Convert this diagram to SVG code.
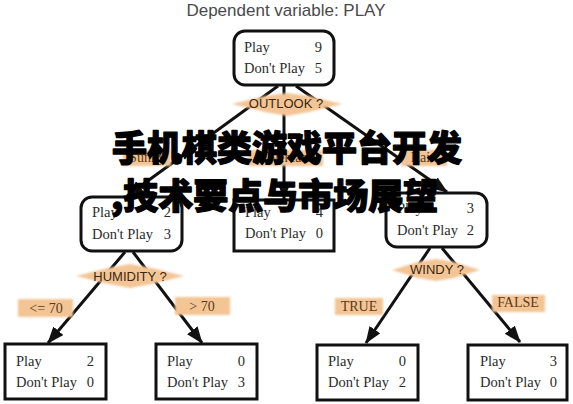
<svg xmlns="http://www.w3.org/2000/svg" width="573" height="404" viewBox="0 0 573 404">
<style>
.bg{fill:#ffffff}
.title{font-family:"Liberation Sans","Open Sans",sans-serif;font-size:17px;fill:#4a4a4a}
.box{fill:#ffffff;stroke:#111;stroke-width:3}
.t{font-family:"Liberation Serif","DejaVu Serif",serif;font-size:14.5px;fill:#2b2b2b}
.n{font-family:"Liberation Serif","DejaVu Serif",serif;font-size:14.5px;fill:#2b2b2b;text-anchor:end}
.arr{stroke:#111;stroke-width:3;fill:none;marker-end:url(#ah)}
.peach{fill:#f3c594;filter:url(#soft)}
.q{font-family:"Liberation Sans","Open Sans",sans-serif;font-size:13px;fill:#3b2712;text-anchor:middle}
.lbl{font-family:"Liberation Serif","DejaVu Serif",serif;font-size:14px;fill:#5a3a1c;text-anchor:middle}
.cjk{font-family:"Noto Sans CJK SC","Noto Sans CJK JP",sans-serif;font-size:35px;font-weight:900;fill:#000;stroke:#000;stroke-width:1.3;stroke-linejoin:round}
</style>
<defs>
<filter id="soft" x="-20%" y="-40%" width="140%" height="180%"><feGaussianBlur stdDeviation="1.3"/></filter>
<marker id="ah" markerUnits="userSpaceOnUse" markerWidth="18" markerHeight="14" refX="16" refY="6.5" orient="auto"><path d="M0,0 L17,6.5 L0,13 z" fill="#111"/></marker>
</defs>
<rect class="bg" x="0" y="0" width="573" height="404"/>
<text class="title" x="286" y="16" text-anchor="middle">Dependent variable: PLAY</text>

<g id="connectors">
<line class="arr" x1="278" y1="86" x2="127" y2="196"/>
<line class="arr" x1="284" y1="86" x2="284" y2="199"/>
<line class="arr" x1="296" y1="86" x2="447" y2="192"/>
<line class="arr" x1="125" y1="252" x2="48" y2="343"/>
<line class="arr" x1="133" y1="252" x2="202" y2="343"/>
<line class="arr" x1="430" y1="248" x2="366" y2="343"/>
<line class="arr" x1="442" y1="248" x2="520" y2="342"/>
</g>

<g id="q-outlook">
<polygon class="peach" points="232,104 265,96 287,93 309,96 342,104 309,112 287,116 265,112"/>
<text class="q" x="286" y="108">OUTLOOK ?</text>
</g>
<g id="q-humidity">
<polygon class="peach" points="76,276 108,268 130,264 152,268 184,276 152,284 130,288 108,284"/>
<text class="q" x="130" y="281">HUMIDITY ?</text>
</g>
<g id="q-windy">
<polygon class="peach" points="392,270 418,262 436,259 454,262 480,270 454,278 436,281 418,278"/>
<text class="q" x="437" y="274">WINDY ?</text>
</g>

<g id="lbl-sunny"><rect class="peach" x="123" y="150" width="48" height="16"/><text class="lbl" x="147" y="162">Sunny</text></g>
<g id="lbl-overcast"><rect class="peach" x="249" y="150" width="74" height="16"/><text class="lbl" x="286" y="162">Overcast</text></g>
<g id="lbl-rain"><rect class="peach" x="401" y="150" width="46" height="16"/><text class="lbl" x="424" y="162">Rain</text></g>
<g id="lbl-le70"><rect class="peach" x="18" y="299" width="55" height="18"/><text class="lbl" x="46" y="313">&lt;= 70</text></g>
<g id="lbl-gt70"><rect class="peach" x="175" y="297" width="55" height="18"/><text class="lbl" x="202" y="311">&gt; 70</text></g>
<g id="lbl-true"><rect class="peach" x="335" y="298" width="48" height="17"/><text class="lbl" x="359" y="311">TRUE</text></g>
<g id="lbl-false"><rect class="peach" x="492" y="295" width="53" height="17"/><text class="lbl" x="518" y="307">FALSE</text></g>

<g id="root">
<rect class="box" x="234" y="31" width="100" height="54" rx="11"/>
<text class="t" x="244" y="52">Play</text><text class="n" x="322" y="52">9</text>
<text class="t" x="244" y="73">Don't Play</text><text class="n" x="322" y="73">5</text>
</g>
<g id="sunny">
<rect class="box" x="81" y="197" width="101" height="54" rx="11"/>
<text class="t" x="92" y="217">Play</text><text class="n" x="171" y="217">2</text>
<text class="t" x="92" y="239">Don't Play</text><text class="n" x="171" y="239">3</text>
</g>
<g id="overcast">
<rect class="box" x="234" y="200" width="100" height="51"/>
<text class="t" x="245" y="217">Play</text><text class="n" x="323" y="217">4</text>
<text class="t" x="245" y="238">Don't Play</text><text class="n" x="323" y="238">0</text>
</g>
<g id="rain">
<rect class="box" x="386" y="193" width="101" height="54" rx="11"/>
<text class="t" x="397" y="213">Play</text><text class="n" x="474" y="213">3</text>
<text class="t" x="397" y="235">Don't Play</text><text class="n" x="474" y="235">2</text>
</g>
<g id="leaf-le70">
<rect class="box" x="5" y="344" width="101" height="55"/>
<text class="t" x="16" y="366">Play</text><text class="n" x="94" y="366">2</text>
<text class="t" x="16" y="387">Don't Play</text><text class="n" x="94" y="387">0</text>
</g>
<g id="leaf-gt70">
<rect class="box" x="156" y="344" width="101" height="55"/>
<text class="t" x="167" y="366">Play</text><text class="n" x="245" y="366">0</text>
<text class="t" x="167" y="387">Don't Play</text><text class="n" x="245" y="387">3</text>
</g>
<g id="leaf-true">
<rect class="box" x="317" y="345" width="101" height="55"/>
<text class="t" x="328" y="366">Play</text><text class="n" x="406" y="366">0</text>
<text class="t" x="328" y="387">Don't Play</text><text class="n" x="406" y="387">2</text>
</g>
<g id="leaf-false">
<rect class="box" x="468" y="345" width="99" height="55"/>
<text class="t" x="480" y="366">Play</text><text class="n" x="557" y="366">3</text>
<text class="t" x="480" y="387">Don't Play</text><text class="n" x="557" y="387">0</text>
</g>

<g id="overlay">
<text class="cjk" x="112" y="161">手机棋类游戏平台开发</text>
<text class="cjk" x="111" y="209">,技术要点与市场展望</text>
</g>
</svg>
